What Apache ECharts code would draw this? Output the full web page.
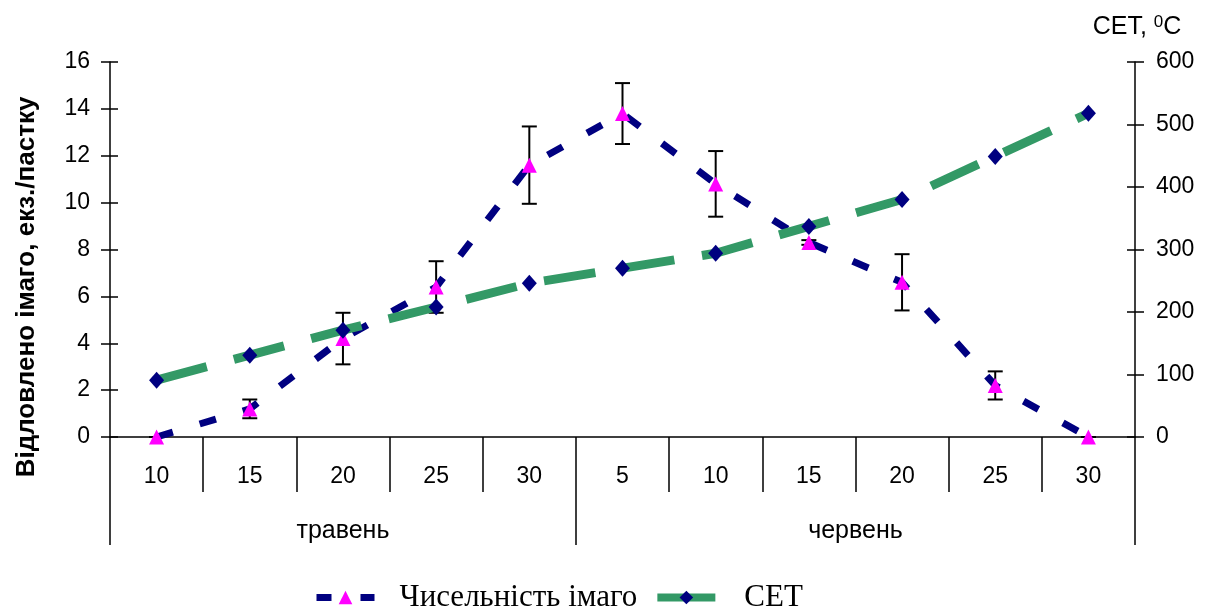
<!DOCTYPE html>
<html><head><meta charset="utf-8">
<script src="https://cdn.jsdelivr.net/npm/echarts@6/dist/echarts.min.js"></script>
<style>html,body{margin:0;padding:0;background:#fff}#c{width:1207px;height:608px}</style>
</head><body><div id="c"></div><script>
const categories = ['10','15','20','25','30','5','10','15','20','25','30'];
const months = ['травень','червень'];
const monthBounds = [0, 5, 11];
const monthCenters = [2.5, 8];
const imago = [0, 1.2, 4.2, 6.4, 11.6, 13.8, 10.8, 8.3, 6.6, 2.2, 0];
const imagoErr = [0, 0.4, 1.1, 1.1, 1.65, 1.3, 1.4, 0.1, 1.2, 0.6, 0];
const cet = [91, 131, 171, 208, 246, 270, 294, 337, 380, 449, 518];
const seriesNames = ['Чисельність імаго', 'CET'];
const leftTitle = 'Відловлено імаго, екз./пастку';

const chart = echarts.init(document.getElementById('c'), null, {renderer: 'canvas'});
const sans = 'Liberation Sans';
const tickStyle = {color: '#000', width: 1.5};
const errData = imago.map((v, i) => [i, v - imagoErr[i], v + imagoErr[i]]);

const option = {
  backgroundColor: '#fff',
  animation: false,
  grid: {left: 110, right: 72, top: 62, bottom: 171, containLabel: false},
  legend: {
    bottom: -10, left: 308,
    itemWidth: 58, itemHeight: 17, itemGap: 16,
    textStyle: {fontFamily: 'Liberation Serif', fontSize: 31, color: '#000', padding: [0, 0, 0, 20]},
    data: [
      {name: seriesNames[0], lineStyle: {width: 7, type: [15, 29], cap: 'butt'}},
      {name: seriesNames[1], lineStyle: {width: 8, type: 'solid'}, textStyle: {padding: [0, 0, 0, 24]}}
    ]
  },
  xAxis: [
    {
      type: 'category', data: categories, boundaryGap: true, position: 'bottom',
      axisLine: {show: true, lineStyle: {color: '#000', width: 1.5}},
      axisTick: {show: true, interval: 0, length: 55, lineStyle: tickStyle},
      axisLabel: {interval: 0, margin: 28, fontFamily: sans, fontSize: 23, color: '#000'},
      splitLine: {show: false}
    },
    {
      type: 'value', min: 0, max: 11, position: 'bottom',
      axisLine: {show: false},
      axisTick: {show: true, customValues: monthBounds, length: 108, lineStyle: tickStyle},
      axisLabel: {customValues: monthCenters, margin: 82, fontFamily: sans, fontSize: 25, color: '#000',
        formatter: v => (v < monthBounds[1] ? months[0] : months[1])},
      splitLine: {show: false}
    }
  ],
  yAxis: [
    {
      type: 'value', min: 0, max: 16, interval: 2, position: 'left',
      name: leftTitle, nameLocation: 'middle', nameGap: 70, nameRotate: 90,
      nameTextStyle: {fontFamily: sans, fontSize: 26, fontWeight: 'bold', color: '#000', padding: [0, 75, 0, 0]},
      axisLine: {show: true, lineStyle: {color: '#000', width: 1.5}},
      axisTick: {show: true, length: 9, lineStyle: tickStyle},
      axisLabel: {margin: 20, fontFamily: sans, fontSize: 23, color: '#000'},
      splitLine: {show: false}
    },
    {
      type: 'value', min: 0, max: 16, interval: 2, position: 'left',
      axisLine: {show: false},
      axisTick: {show: true, inside: true, length: 8, lineStyle: tickStyle},
      axisLabel: {show: false}, splitLine: {show: false}
    },
    {
      type: 'value', min: 0, max: 600, interval: 100, position: 'right',
      name: '{a|CET, }{s|0}{a|C}', nameLocation: 'end', nameGap: 21,
      nameTextStyle: {
        padding: [0, 0, 0, 4],
        rich: {
          a: {fontFamily: sans, fontSize: 25, color: '#000'},
          s: {fontFamily: sans, fontSize: 17, color: '#000', verticalAlign: 'top', padding: [0, 0, 10, 0]}
        }
      },
      axisLine: {show: true, lineStyle: {color: '#000', width: 1.5}},
      axisTick: {show: true, length: 9, lineStyle: tickStyle},
      axisLabel: {margin: 21, fontFamily: sans, fontSize: 23, color: '#000'},
      splitLine: {show: false}
    },
    {
      type: 'value', min: 0, max: 600, interval: 100, position: 'right',
      axisLine: {show: false},
      axisTick: {show: true, inside: true, length: 8, lineStyle: tickStyle},
      axisLabel: {show: false}, splitLine: {show: false}
    }
  ],
  series: [
    {
      type: 'custom', name: 'err', xAxisIndex: 0, yAxisIndex: 0, z: 1,
      data: errData, encode: {x: 0, y: [1, 2]},
      renderItem: function (params, api) {
        const i = api.value(0);
        const lo = api.coord([i, api.value(1)]);
        const hi = api.coord([i, api.value(2)]);
        const w = 7.5;
        const st = {stroke: '#000', lineWidth: 2};
        return {type: 'group', children: [
          {type: 'line', shape: {x1: lo[0], y1: lo[1], x2: hi[0], y2: hi[1]}, style: st},
          {type: 'line', shape: {x1: hi[0] - w, y1: hi[1], x2: hi[0] + w, y2: hi[1]}, style: st},
          {type: 'line', shape: {x1: lo[0] - w, y1: lo[1], x2: lo[0] + w, y2: lo[1]}, style: st}
        ]};
      }
    },
    {
      type: 'line', name: seriesNames[0], xAxisIndex: 0, yAxisIndex: 0, z: 2,
      data: imago, symbol: 'triangle', symbolSize: [15, 15], showAllSymbol: true,
      itemStyle: {color: '#FF00FF'},
      lineStyle: {color: '#000080', width: 7, type: [17, 28], cap: 'butt'}
    },
    {
      type: 'line', name: seriesNames[1], xAxisIndex: 0, yAxisIndex: 2, z: 3,
      data: cet, symbol: 'diamond', symbolSize: [15, 17], showAllSymbol: true,
      itemStyle: {color: '#000080'},
      lineStyle: {color: '#339966', width: 9, type: [52, 28], cap: 'butt'}
    }
  ]
};
chart.setOption(option);
</script></body></html>
